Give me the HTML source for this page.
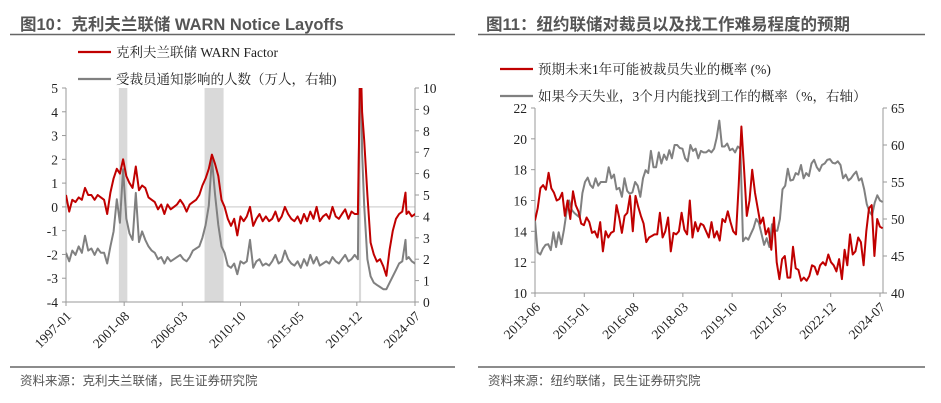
<!DOCTYPE html>
<html><head><meta charset="utf-8">
<style>
body{margin:0;background:#fff;width:941px;height:403px;overflow:hidden}
svg{display:block}
.t{font-family:"Liberation Sans","Noto Sans CJK SC",sans-serif;font-weight:bold;font-size:16.5px;fill:#555}
.src{font-family:"Liberation Sans","Noto Sans CJK SC",sans-serif;font-size:12.5px;fill:#555}
.lg{font-family:"Liberation Serif","Noto Serif CJK SC",serif;font-size:13.5px;fill:#222}
.tk{font-family:"Liberation Serif",serif;font-size:13.5px;fill:#222}
</style></head><body>
<svg id="svg" width="941" height="403">
<text class="t" x="20" y="30">图10：克利夫兰联储 WARN Notice Layoffs</text>
<line x1="10" y1="34.5" x2="455" y2="34.5" stroke="#666" stroke-width="1.5"/>
<text class="t" x="486" y="30">图11：纽约联储对裁员以及找工作难易程度的预期</text>
<line x1="478" y1="34.5" x2="925" y2="34.5" stroke="#666" stroke-width="1.5"/>
<line x1="10" y1="367" x2="455" y2="367" stroke="#666" stroke-width="1.5"/>
<line x1="478" y1="367" x2="925" y2="367" stroke="#666" stroke-width="1.5"/>
<text class="src" x="20" y="385">资料来源：克利夫兰联储，民生证券研究院</text>
<text class="src" x="488" y="385">资料来源：纽约联储，民生证券研究院</text>
<g>
<line x1="78" y1="52" x2="111" y2="52" stroke="#c00000" stroke-width="2.2"/>
<text class="lg" x="116" y="57">克利夫兰联储 WARN Factor</text>
<line x1="78" y1="79" x2="111" y2="79" stroke="#808080" stroke-width="2.2"/>
<text class="lg" x="116" y="84">受裁员通知影响的人数（万人，右轴)</text>
</g>
<g>
<line x1="500" y1="69" x2="533" y2="69" stroke="#c00000" stroke-width="2.2"/>
<text class="lg" x="538" y="74">预期未来1年可能被裁员失业的概率 (%)</text>
<line x1="500" y1="96" x2="533" y2="96" stroke="#808080" stroke-width="2.2"/>
<text class="lg" x="538" y="101">如果今天失业，3个月内能找到工作的概率（%，右轴）</text>
</g>
</svg>
<script>
// ---- Left chart data (months since 1997-01) ----
const warnMonths = [];
for (let i = 0; i < 92; i++) warnMonths.push(i * 3);
warnMonths.push(276,278,279,280,282,285,288,291,294,297,300,303,306,309,312,315,318,321,322,324,327,330,333);
const warnFactor = [
0.5,-0.2,0.3,0.2, 0.4,0.3,0.8,0.5, 0.5,0.3,0.5,0.4, 0.3,-0.3,0.6,1.2,
1.6,1.4,2.0,1.3, 1.0,0.8,1.7,0.7, 0.9,0.8,0.4,0.3, 0.2,-0.1,0.1,-0.3,
0.1,-0.1,0.0,0.1, 0.3,0.1,-0.2,0.1, 0.2,0.3,0.5,0.9, 1.2,1.6,2.2,1.8,
1.3,0.3,0.0,-0.5, -0.8,-0.5,-1.2,-0.4, -0.6,-0.4,0.0,-0.8, -0.5,-0.3,-0.6,-0.4,
-0.6,-0.5,-0.2,-0.6, -0.4,0.0,-0.3,-0.5, -0.6,-0.4,-0.7,-0.3, -0.6,-0.2,-0.5,0.0,
-0.6,-0.4,-0.3,-0.5, 0.0,-0.4,-0.5,-0.3, -0.1,-0.5,-0.2,-0.3,
-0.3,5.6,5.5,4.0,2.8,0.5,-1.5,-2.0,-2.3,-2.2,-2.5,-2.9,-1.8,-1.0,-0.5,-0.3,-0.2,0.6,-0.3,-0.2,-0.4,-0.3,-0.5];
const layoffCount = [
2.3,1.9,2.4,2.2, 2.6,2.3,3.1,2.4, 2.5,2.2,2.5,2.3, 2.3,1.8,2.6,3.3,
4.8,3.7,6.2,3.9, 3.2,2.9,5.1,2.8, 3.3,2.9,2.6,2.4, 2.3,2.0,2.1,1.8,
2.1,1.9,2.0,2.1, 2.2,2.0,1.9,2.1, 2.4,2.5,2.6,3.0, 3.6,4.5,6.7,5.0,
3.6,2.6,2.3,1.7, 1.6,1.8,1.3,1.9, 1.8,1.9,2.9,1.6, 1.9,2.0,1.7,1.8,
1.7,1.9,2.2,1.8, 1.9,2.4,2.0,1.8, 1.7,1.9,1.6,2.0, 1.7,2.2,1.8,2.1,
1.7,1.8,1.9,1.8, 2.1,1.9,1.8,2.0, 2.2,1.9,2.0,2.2,
2.0,12,11,7,4.5,2.0,1.2,0.9,0.8,0.7,0.6,0.6,0.9,1.2,1.5,1.8,1.9,2.9,2.0,2.1,1.9,1.8,1.9];
const leftTicksL = [5,4,3,2,1,0,-1,-2,-3,-4];
const leftTicksR = [10,9,8,7,6,5,4,3,2,1,0];
const leftXLabels = ["1997-01","2001-08","2006-03","2010-10","2015-05","2019-12","2024-07"];
const leftXLabelMonths = [0,55,110,165,220,275,330];
const recessions = [[50,58],[131,149],[277,279]];

// ---- Right chart data (monthly from 2013-06) ----
const layoffProb = [14.7,15.5,16.8,17.0,16.7,17.8,16.8,16.5,16.0,16.1,16.5,15.0,16.0,14.8,16.6,15.7,15.3,14.5,14.4,14.9,14.6,13.9,14.0,13.6,14.6,12.7,14.0,13.6,13.9,14.0,15.7,14.9,13.9,15.0,15.2,16.3,14.0,16.3,15.6,15.0,14.5,13.3,13.6,13.7,13.8,13.8,15.2,13.6,14.0,14.9,12.7,13.9,13.8,14.0,15.2,14.1,13.8,16.0,13.6,14.6,14.0,14.5,14.4,14.0,13.6,14.6,13.6,14.0,13.4,14.8,14.6,15.3,14.6,14.0,13.8,17.0,20.8,18.0,15.0,16.0,18.0,16.5,15.5,14.5,14.9,13.8,14.2,12.8,14.9,12.0,10.9,12.2,12.4,11.0,11.0,13.0,11.6,11.5,10.8,11.0,10.8,11.1,11.8,11.7,11.2,11.8,12.0,11.8,12.5,12.0,11.8,11.4,12.2,10.9,12.8,11.8,13.8,12.5,12.7,13.6,13.3,11.8,14.0,15.5,15.7,12.4,14.8,14.3,14.2];
const jobFindProb = [49.8,45.5,45.2,46,46.5,46.6,45.8,48.2,46.2,48.2,46.6,48.6,51,52.5,51.2,50.8,50.5,50.2,53.5,55,55.6,54.6,54.2,55.5,54.5,55,55,55,57,55.5,56,54,54.2,53,55.5,53.8,53.4,53.6,55,54.5,53,55.5,56.6,56.2,59.2,57,57,59,57.5,58.7,58,59.3,58.2,60,60,59.6,59.5,58.2,57.8,60,59.2,59.5,58.2,59.2,59,59,59.3,59,59.5,61,63.3,59.8,59.8,60.2,59.3,59.5,59,59.8,59.5,47,47.5,47.2,48,48.8,50,49.5,48,46.5,47.4,46.2,49.3,48.4,48.4,50,54,54.5,56.8,55.2,55.3,56.2,56,57.3,55.5,56.2,55.8,57.5,58,57,56.5,57.3,57.5,58,58.1,57.6,57.5,57.8,57.3,55.5,56,55.2,55.5,56,56.4,55.2,55.5,54,52,51,50.5,52.2,53.2,52.5,52.3];
const rightTicksL = [22,20,18,16,14,12,10];
const rightTicksR = [65,60,55,50,45,40];
const rightXLabels = ["2013-06","2015-01","2016-08","2018-03","2019-10","2021-05","2022-12","2024-07"];
const rightXLabelMonths = [0,19,38,57,76,95,114,133];
const rightSpanMonths = 134;

const svg = document.getElementById('svg');
const NS = 'http://www.w3.org/2000/svg';
function mk(tag, attrs, parent){const e=document.createElementNS(NS,tag);for(const k in attrs)e.setAttribute(k,attrs[k]);(parent||svg).appendChild(e);return e;}

function axes(g, x0, x1, y0, y1, ticksL, ticksR, yL, yR, xlabels, xlabMonths, xS){
  const ax = mk('line',{x1:x0,y1:y0,x2:x0,y2:y1,stroke:'#999','stroke-width':1},g);
   
  const ax2 = mk('line',{x1:x1,y1:y0,x2:x1,y2:y1,stroke:'#999','stroke-width':1},g);
   
  const ax3 = mk('line',{x1:x0,y1:y1,x2:x1,y2:y1,stroke:'#999','stroke-width':1},g);
   
  ticksL.forEach(v=>{const y=yL(v);
    mk('line',{x1:x0-4,y1:y,x2:x0,y2:y,stroke:'#999'},g);
    const t=mk('text',{x:x0-8,y:y+5,'text-anchor':'end',class:'tk'},g);t.textContent=v;
     });
  ticksR.forEach(v=>{const y=yR(v);
    mk('line',{x1:x1,y1:y,x2:x1+4,y2:y,stroke:'#999'},g);
    const t=mk('text',{x:x1+8,y:y+5,class:'tk'},g);t.textContent=v;
     });
  xlabels.forEach((s,i)=>{const x=xS(xlabMonths[i]);
    mk('line',{x1:x,y1:y1,x2:x,y2:y1+4,stroke:'#999'},g);
    const tx=x+6, ty=y1+15;
    const t=mk('text',{x:tx,y:ty,'text-anchor':'end',class:'tk',transform:`rotate(-45 ${tx} ${ty})`},g);t.textContent=s;
     });
}
function line(g, xs, ys, color, name, clip){
  const d = ys.map((v,i)=>(i?'L':'M')+xs[i].toFixed(1)+','+v.toFixed(1)).join('');
  const p = mk('path',{d:d,fill:'none',stroke:color,'stroke-width':2,'stroke-linejoin':'round','clip-path':clip},g);
   
}
mk('defs',{}).innerHTML='<clipPath id="cl"><rect x="66" y="88" width="349" height="214"/></clipPath><clipPath id="cr"><rect x="535" y="108" width="348" height="185"/></clipPath>';

// Left chart
(function(){
  const x0=66,x1=415,y0=88,y1=302;
  const xS=m=>x0+m*(x1-x0)/330;
  const yL=v=>y1-(v+4)*(y1-y0)/9;
  const yR=v=>y1-v*(y1-y0)/10;
  const g=mk('g',{});
   
  recessions.forEach(r=>{const b=mk('rect',{x:xS(r[0]),y:y0,width:xS(r[1])-xS(r[0]),height:y1-y0,fill:'#d9d9d9'},g);
     });
  const z=mk('line',{x1:x0,y1:yL(0),x2:x1,y2:yL(0),stroke:'#d9d9d9','stroke-width':1.5},g);
   
  axes(g,x0,x1,y0,y1,leftTicksL,leftTicksR,yL,yR,leftXLabels,leftXLabelMonths,xS);
  const xs=warnMonths.map(xS);
  line(g,xs,layoffCount.map(yR),'#808080','layoffs-line','url(#cl)');
  line(g,xs,warnFactor.map(yL),'#c00000','warn-factor-line','url(#cl)');
})();

// Right chart
(function(){
  const x0=535,x1=883,y0=108,y1=293;
  const xS=m=>x0+m*(880-x0)/133;
  const yL=v=>y1-(v-10)*(y1-y0)/12;
  const yR=v=>y1-(v-40)*(y1-y0)/25;
  const g=mk('g',{});
   
  axes(g,x0,x1,y0,y1,rightTicksL,rightTicksR,yL,yR,rightXLabels,rightXLabelMonths,xS);
  const xsA=layoffProb.map((v,i)=>xS(i*rightSpanMonths/(layoffProb.length-1)));
  const xsB=jobFindProb.map((v,i)=>xS(i*rightSpanMonths/(jobFindProb.length-1)));
  line(g,xsB,jobFindProb.map(yR),'#808080','job-find-prob-line','url(#cr)');
  line(g,xsA,layoffProb.map(yL),'#c00000','layoff-prob-line','url(#cr)');
})();
</script>
</body></html>
